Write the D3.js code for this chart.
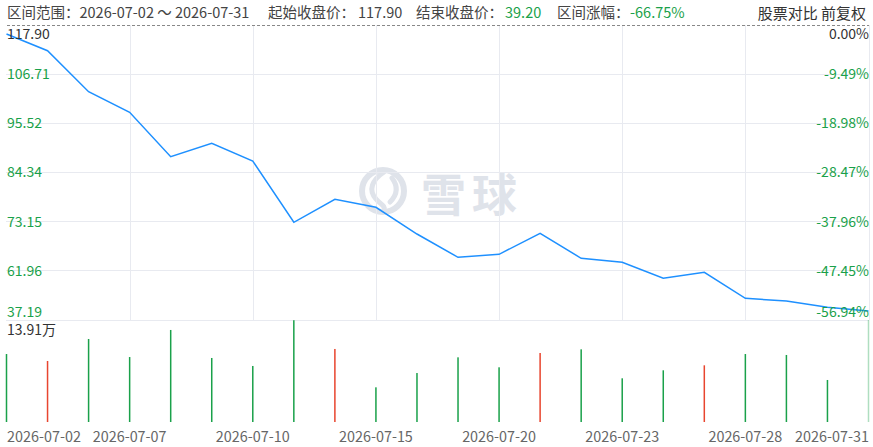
<!DOCTYPE html>
<html>
<head>
<meta charset="utf-8">
<script src="https://cdn.jsdelivr.net/npm/d3@7"></script>
<style>
  html, body { margin: 0; padding: 0; background: #fff; }
  svg { display: block; font-family: "Noto Sans CJK SC", "Noto Sans", sans-serif; }
  .grid line { stroke: #e8eaf0; stroke-width: 1; shape-rendering: crispEdges; }
</style>
</head>
<body>
<div id="chart"></div>
<script>
var dates = ['2026-07-02', '2026-07-03', '2026-07-06', '2026-07-07', '2026-07-08', '2026-07-09',
  '2026-07-10', '2026-07-13', '2026-07-14', '2026-07-15', '2026-07-16', '2026-07-17',
  '2026-07-20', '2026-07-21', '2026-07-22', '2026-07-23', '2026-07-24', '2026-07-27',
  '2026-07-28', '2026-07-29', '2026-07-30', '2026-07-31'];
var closes = [117.90, 113.15, 101.50, 95.65, 83.03, 86.84, 81.81, 64.39, 70.92, 68.65, 61.06,
  54.44, 55.29, 61.26, 54.16, 53.02, 48.47, 50.18, 42.79, 42.02, 40.23, 39.20];
// volume in 万
var volumes = [9.27, 8.32, 11.32, 8.86, 12.55, 8.73, 7.64, 13.88, 9.96, 4.73, 6.68, 8.82,
  7.46, 9.41, 9.91, 5.96, 7.05, 7.73, 9.27, 9.14, 5.73, 13.91];
var volumeUp = [0, 1, 0, 0, 0, 0, 0, 0, 1, 0, 0, 0, 0, 1, 0, 0, 0, 1, 0, 0, 0, 0];
var priceTicks = ['117.90', '106.71', '95.52', '84.34', '73.15', '61.96', '37.19'];
var pctTicks = ['0.00%', '-9.49%', '-18.98%', '-28.47%', '-37.96%', '-47.45%', '-56.94%'];
var xTicks = ['2026-07-02', '2026-07-07', '2026-07-10', '2026-07-15', '2026-07-20', '2026-07-23', '2026-07-28', '2026-07-31'];
var priceMin = 37.19, priceMax = 117.90, volumeMax = 13.91;

var width = 873, height = 447;
var GREEN = '#1aa14a', RED = '#e8452f', DARK = '#333', BLUE = '#1e90ff';

var svg = d3.select('#chart').append('svg')
    .attr('width', width)
    .attr('height', height);

var x = d3.scalePoint()
    .domain(dates)
    .range([6.5, 868.5]);

var y = d3.scaleLinear()
    .domain([priceMin, priceMax])
    .range([318, 34]);

// tick rows are spread evenly, independent of the price scale
var yGrid = d3.scalePoint()
    .domain(d3.range(priceTicks.length))
    .range([25, 320]);

var yVol = d3.scaleLinear()
    .domain([0, volumeMax])
    .range([422, 320]);

// Header
var header = svg.append('g').attr('font-size', 14.5).attr('fill', '#444');
var headerParts = [
  {t: '区间范围：2026-07-02 ～ 2026-07-31', x: 7},
  {t: '起始收盘价：', x: 268},
  {t: '117.90', x: 358},
  {t: '结束收盘价：', x: 416},
  {t: '39.20', x: 505, c: GREEN},
  {t: '区间涨幅：', x: 557},
  {t: '-66.75%', x: 630, c: GREEN}
];
header.selectAll('text')
    .data(headerParts)
  .enter().append('text')
    .attr('x', d => d.x)
    .attr('y', 18)
    .attr('fill', d => d.c || '#444')
    .text(d => d.t);

svg.append('text')
    .attr('x', 866)
    .attr('y', 19)
    .attr('text-anchor', 'end')
    .attr('font-size', 15)
    .attr('fill', DARK)
    .text('股票对比 前复权');

// Watermark
var wm = svg.append('g').attr('fill', 'none').attr('stroke', '#dfe3ea');
wm.append('circle')
    .attr('cx', 383).attr('cy', 191).attr('r', 21)
    .attr('stroke-width', 6);
wm.append('path')
    .attr('stroke-width', 5)
    .attr('stroke-linecap', 'round')
    .attr('d', 'M384,172 C372,180 368,190 376,199 C380,204 386,206 384,210');
wm.append('path')
    .attr('stroke-width', 5)
    .attr('stroke-linecap', 'round')
    .attr('d', 'M392,178 C398,186 398,194 390,202');
svg.append('text')
    .attr('x', 421)
    .attr('y', 212)
    .attr('font-size', 45)
    .attr('font-weight', 'bold')
    .attr('letter-spacing', 6)
    .attr('fill', '#dfe3ea')
    .text('雪球');

// Grid
var grid = svg.append('g').attr('class', 'grid');
grid.selectAll('.h')
    .data(d3.range(1, priceTicks.length))
  .enter().append('line')
    .attr('class', 'h')
    .attr('x1', 6).attr('x2', 869)
    .attr('y1', d => yGrid(d)).attr('y2', d => yGrid(d));
grid.selectAll('.v')
    .data(xTicks.slice(1))
  .enter().append('line')
    .attr('class', 'v')
    .attr('x1', d => Math.round(x(d)) + 0.5).attr('x2', d => Math.round(x(d)) + 0.5)
    .attr('y1', 25).attr('y2', 320);

svg.append('line')
    .attr('x1', 7).attr('x2', 869)
    .attr('y1', 25.5).attr('y2', 25.5)
    .attr('stroke', '#888')
    .attr('stroke-dasharray', '3,2');

// Volume bars
svg.append('g').selectAll('rect')
    .data(volumes)
  .enter().append('rect')
    .attr('x', (d, i) => x(dates[i]) - 0.75)
    .attr('width', 1.5)
    .attr('y', d => yVol(d))
    .attr('height', d => yVol(0) - yVol(d))
    .attr('fill', (d, i) => volumeUp[i] ? RED : GREEN)
    .attr('opacity', (d, i) => i === dates.length - 1 ? 0.35 : 1);

// Price line
var line = d3.line()
    .x((d, i) => x(dates[i]))
    .y(d => y(d));
svg.append('path')
    .datum(closes)
    .attr('fill', 'none')
    .attr('stroke', BLUE)
    .attr('stroke-width', 1.5)
    .attr('d', line);

// Y labels
var last = priceTicks.length - 1;
function labelY(i) {
  if (i === 0) return yGrid(i) + 9;
  if (i === last) return yGrid(i) - 8;
  return yGrid(i);
}
svg.append('g').selectAll('text')
    .data(priceTicks)
  .enter().append('text')
    .attr('x', 7)
    .attr('y', (d, i) => labelY(i))
    .attr('dy', '0.35em')
    .attr('font-size', 14)
    .attr('fill', (d, i) => i === 0 ? DARK : GREEN)
    .text(d => d);

svg.append('g').selectAll('text')
    .data(pctTicks)
  .enter().append('text')
    .attr('x', 869)
    .attr('y', (d, i) => labelY(i))
    .attr('dy', '0.35em')
    .attr('text-anchor', 'end')
    .attr('font-size', 14)
    .attr('fill', (d, i) => i === 0 ? DARK : GREEN)
    .text(d => d);

svg.append('text')
    .attr('x', 7)
    .attr('y', yVol(volumeMax) + 10)
    .attr('dy', '0.35em')
    .attr('font-size', 14)
    .attr('fill', DARK)
    .text(d3.format('.2f')(volumeMax) + '万');

// X labels
svg.append('g').selectAll('text')
    .data(xTicks)
  .enter().append('text')
    .attr('x', (d, i) => i === 0 ? 7 : i === xTicks.length - 1 ? 869 : x(d))
    .attr('y', 437)
    .attr('dy', '0.35em')
    .attr('text-anchor', (d, i) => i === 0 ? 'start' : i === xTicks.length - 1 ? 'end' : 'middle')
    .attr('font-size', 14.4)
    .attr('fill', '#666')
    .text(d => d);
</script>
</body>
</html>
